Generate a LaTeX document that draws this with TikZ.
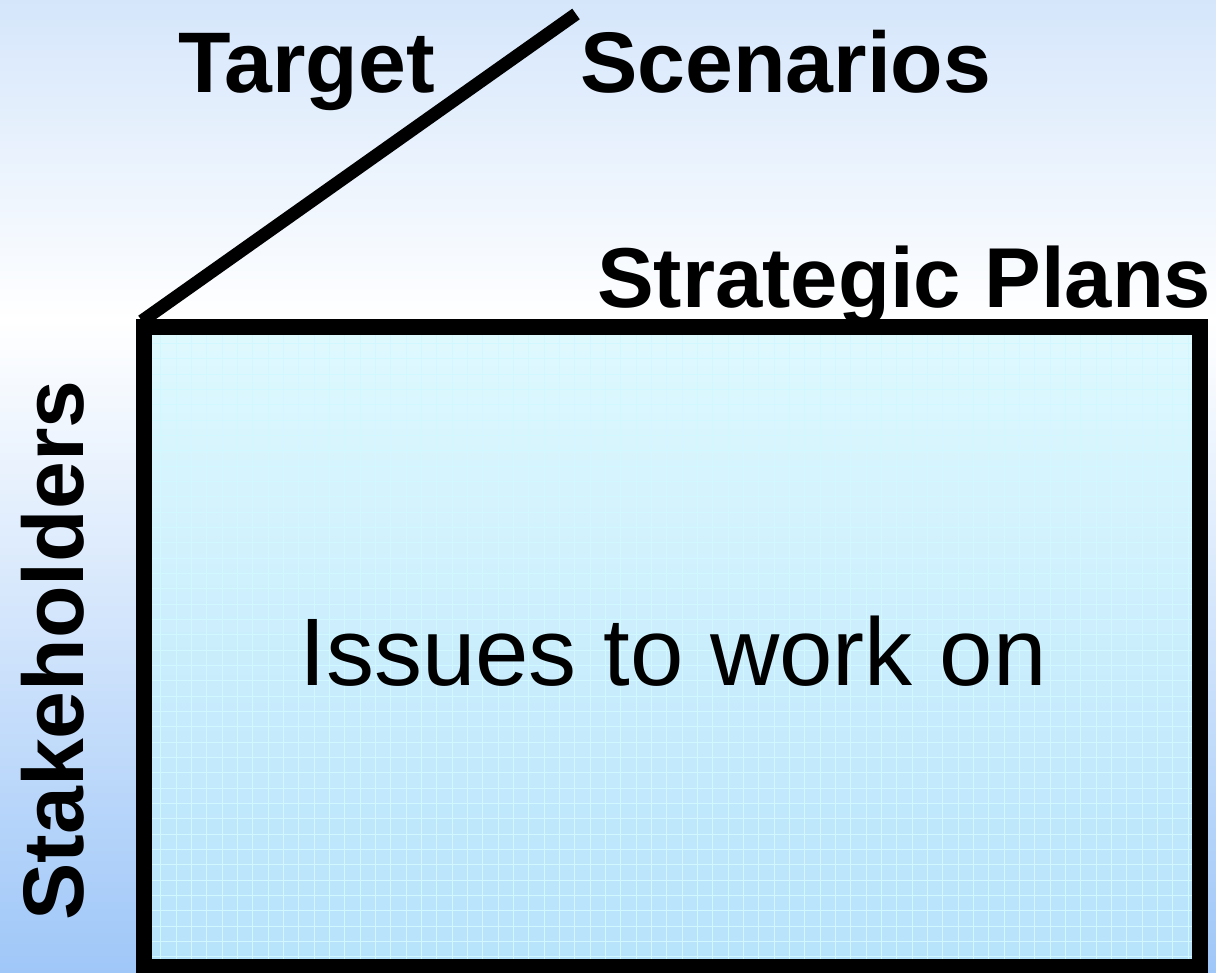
\documentclass[tikz,border=0pt]{standalone}
\usepackage{fontspec}
\setmainfont{Liberation Sans}
\definecolor{bgtop}{HTML}{D5E6FB}
\definecolor{bgbot}{HTML}{9FC7F8}
\definecolor{boxtop}{HTML}{DFF9FE}
\definecolor{boxbot}{HTML}{B6E2FB}
\definecolor{gridc}{HTML}{D2F8FF}
\begin{document}
\begin{tikzpicture}[x=1pt,y=-1pt,
  lbl/.style={inner sep=0pt, font=\fontsize{86}{86}\selectfont\bfseries},
  body/.style={inner sep=0pt, font=\fontsize{96}{96}\selectfont},
  gridline/.style={draw=gridc, line width=0.7pt},
  frame/.style={draw=black, line width=16pt},
  roof/.style={draw=black, line width=13pt}]
\useasboundingbox (0,0) rectangle (1216,973);
% background
\shade[top color=bgtop, bottom color=white] (0,0) rectangle (1216,320);
\shade[top color=white, bottom color=bgbot] (0,320) rectangle (1216,973);
% box
\coordinate (tl) at (144,327);
\coordinate (br) at (1200,967);
\coordinate (apex) at (576,14);
\coordinate (roofstart) at (142,321);
\shade[top color=boxtop, bottom color=boxbot] (tl) rectangle (br);
\foreach \i in {0,...,67} {
  \draw[gridline] ({160.8+15.33*\i},335) -- ++(0,624);
}
\foreach \j in {0,...,40} {
  \draw[gridline] (152,{343.4+15.33*\j}) -- ++(1040,0);
}
\draw[roof] (roofstart) -- (apex);
\draw[frame] (tl) rectangle (br);
% labels
\node[lbl, anchor=base west] (target) at (178,93) {Target};
\node[lbl, anchor=base west] (scen) at (580,93) {Scenarios};
\node[lbl, anchor=base west, font=\fontsize{85}{85}\selectfont\bfseries] (strat) at (597,308) {Strategic Plans};
\node[lbl, anchor=base west, rotate=90] (stake) at (83,921) {Stakeholders};
\node[body, anchor=base] (issues) at (673,685) {Issues to work on};
\end{tikzpicture}
\end{document}
